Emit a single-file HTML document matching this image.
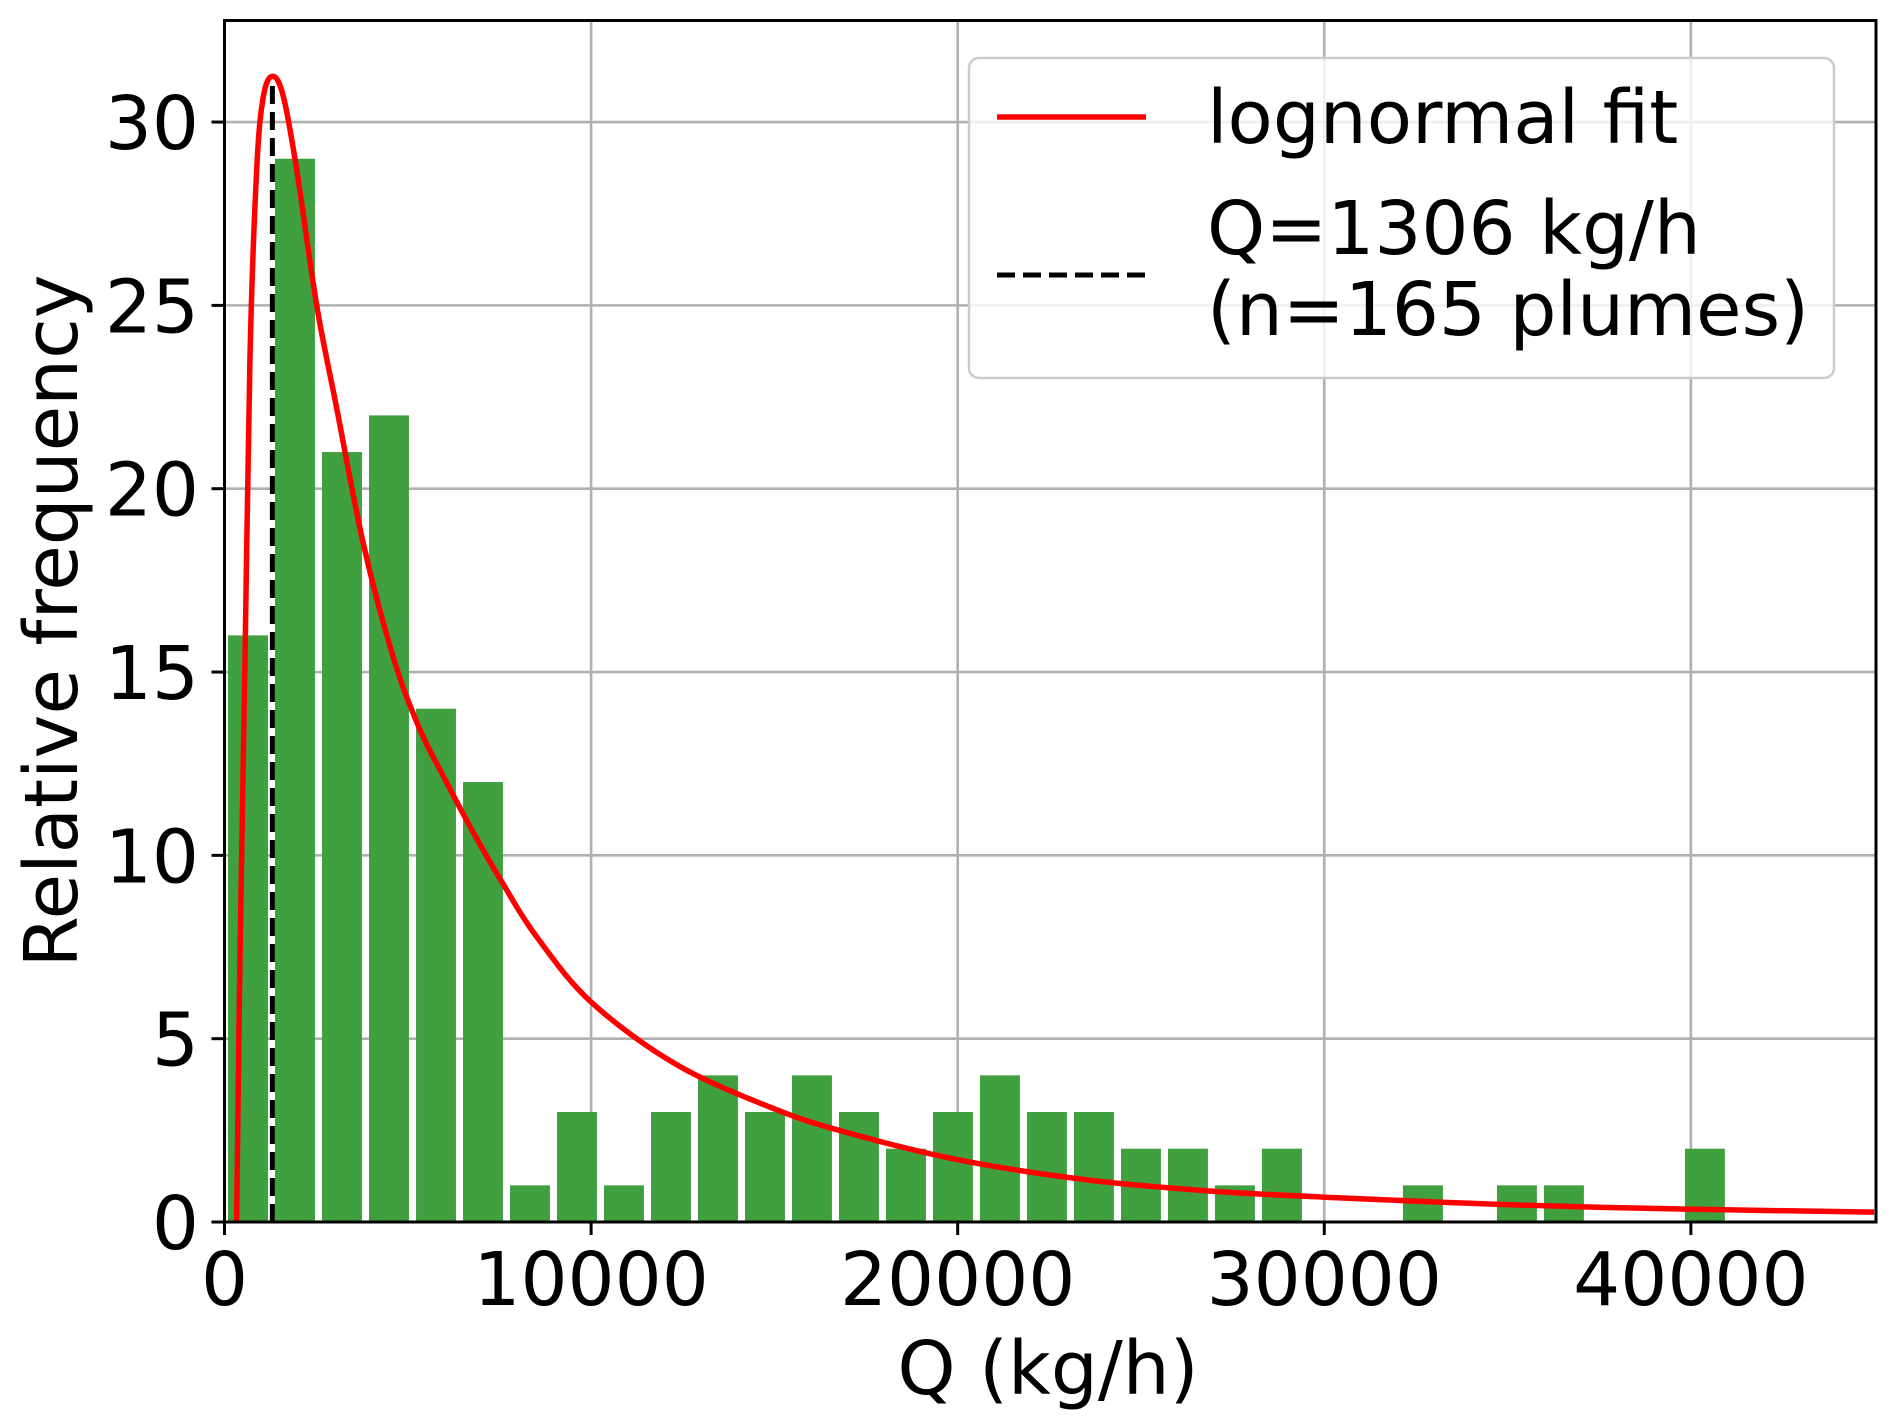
<!DOCTYPE html>
<html><head><meta charset="utf-8"><style>
html,body{margin:0;padding:0;background:#fff;}
svg{display:block;font-family:"DejaVu Sans","Liberation Sans",sans-serif;}
</style></head><body>
<svg id="chart" width="1892" height="1426" viewBox="0 0 1892 1426">
<g id="grid"></g>
<g id="bars"></g>
<g id="fit"></g>
<g id="axes"></g>
<text x="52" y="621" font-size="74" text-anchor="middle" transform="rotate(-90 52 621)" dominant-baseline="central">Relative frequency</text>
<text x="1048" y="1394" font-size="74" text-anchor="middle">Q (kg/h)</text>
<g>
<rect x="969" y="58" width="865" height="320" rx="10" fill="#fff" fill-opacity="0.8" stroke="#cccccc" stroke-width="2.5"/>
<line x1="997" y1="117" x2="1146" y2="117" stroke="#ff0000" stroke-width="5.5"/>
<text x="1207" y="143" font-size="74">lognormal fit</text>
<line x1="997" y1="275" x2="1146" y2="275" stroke="#000" stroke-width="5" stroke-dasharray="18,8"/>
<text x="1207" y="254" font-size="74">Q=1306 kg/h</text>
<text x="1207" y="335" font-size="74">(n=165 plumes)</text>
</g>
</svg>
<script>
const binWidth = 1282;
const counts = [16,29,21,22,14,12,1,3,1,3,4,3,4,3,2,3,4,3,3,2,2,1,2,0,0,1,0,1,1,0,0,2];
const fitQ = [330,423,560,695,878,1060,1315,1605,1970,2515,3060,3787,4605,5300,6000,6800,7611,8500,10000,12320,14960,16940,20000,23530,26820,29950,35060,39930,45000];
const fitY = [0,7.3,15.4,23.6,28.7,30.7,31.25,30.7,28.7,25.0,22.2,18.5,15.4,13.5,12.1,10.6,9.2,7.8,6.0,4.3,3.1,2.45,1.7,1.15,0.85,0.68,0.47,0.35,0.27];
const medianQ = 1306;
const xTicks = [0,10000,20000,30000,40000];
const yTicks = [0,5,10,15,20,25,30];

const L=224.5,R=1876,T=20.5,B=1222;
const xMax=45050,yMax=32.77;
const sx=v=>L+v/xMax*(R-L);
const sy=v=>B-v/yMax*(B-T);
const NS='http://www.w3.org/2000/svg';
function mk(tag,attrs,parent){const e=document.createElementNS(NS,tag);for(const k in attrs)e.setAttribute(k,attrs[k]);parent.appendChild(e);return e;}
const grid=document.getElementById('grid'),bars=document.getElementById('bars'),fit=document.getElementById('fit'),axes=document.getElementById('axes');
xTicks.forEach(t=>{
  const g=mk('line',{x1:sx(t),x2:sx(t),y1:T,y2:B,stroke:'#b0b0b0','stroke-width':2.6},grid);
  
  
  const tk=mk('line',{x1:sx(t),x2:sx(t),y1:B,y2:B+13,stroke:'#000','stroke-width':3},axes);
  
  
  const tx=mk('text',{x:sx(t),y:1305,'font-size':74,'text-anchor':'middle'},axes);
  tx.textContent=t;
  
  
});
yTicks.forEach(t=>{
  const g=mk('line',{x1:L,x2:R,y1:sy(t),y2:sy(t),stroke:'#b0b0b0','stroke-width':2.6},grid);
  
  
  const tk=mk('line',{x1:L-13,x2:L,y1:sy(t),y2:sy(t),stroke:'#000','stroke-width':3},axes);
  
  
  const tx=mk('text',{x:199,y:sy(t)+27,'font-size':74,'text-anchor':'end'},axes);
  tx.textContent=t;
  
  
});
counts.forEach((c,i)=>{
  if(c<=0)return;
  const x0=i*binWidth+binWidth*0.075,x1=(i+1)*binWidth-binWidth*0.075;
  const r=mk('rect',{x:sx(x0),y:sy(c),width:sx(x1)-sx(x0),height:sy(0)-sy(c),fill:'#40a040'},bars);
  
  
});
const pts=fitQ.map((q,i)=>[sx(q),sy(fitY[i])]);
let d='M'+pts[0][0]+','+pts[0][1];
for(let i=0;i<pts.length-1;i++){
  const p0=pts[Math.max(0,i-1)],p1=pts[i],p2=pts[i+1],p3=pts[Math.min(pts.length-1,i+2)];
  const c1=[p1[0]+(p2[0]-p0[0])/6,p1[1]+(p2[1]-p0[1])/6];
  const c2=[p2[0]-(p3[0]-p1[0])/6,p2[1]-(p3[1]-p1[1])/6];
  d+=' C'+c1[0]+','+c1[1]+' '+c2[0]+','+c2[1]+' '+p2[0]+','+p2[1];
}
const dl=mk('line',{x1:sx(medianQ),x2:sx(medianQ),y1:sy(0),y2:sy(31.2),stroke:'#000','stroke-width':5,'stroke-dasharray':'18,8'},fit);


const cp=mk('path',{d:d,fill:'none',stroke:'#ff0000','stroke-width':5.5,'stroke-linejoin':'round'},fit);


const fr=mk('rect',{x:L,y:T,width:R-L,height:B-T,fill:'none',stroke:'#000','stroke-width':3},axes);


</script>
</body></html>
